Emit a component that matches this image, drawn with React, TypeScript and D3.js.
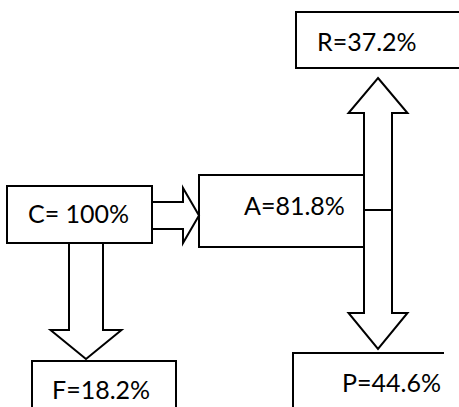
import { line } from 'd3';

// flow shares (percent of C)
const nodes = ['C', 'A', 'R', 'F', 'P'];
const shares = [100, 81.8, 37.2, 18.2, 44.6];
const labels = nodes.map((n, i) => `${n}=${i === 0 ? ' ' : ''}${shares[i]}%`);

const W = 459;
const H = 407;

// diagram layout (boxes + label anchors)
const boxes: Record<string, { x0: number; y0: number; x1: number; y1: number; tx: number; ty: number }> = {
  C: { x0: 7, y0: 186, x1: 152, y1: 243, tx: 28, ty: 223 },
  A: { x0: 199, y0: 175, x1: 364, y1: 247, tx: 244, ty: 215 },
  R: { x0: 296, y0: 12, x1: 470, y1: 68, tx: 317, ty: 51 },
  F: { x0: 32, y0: 361, x1: 176, y1: 430, tx: 52, ty: 399 },
  P: { x0: 293, y0: 353, x1: 444, y1: 430, tx: 342, ty: 392 },
};

type Pt = [number, number];
const poly = line<Pt>();

// single block arrow: along x (horizontal) or y (vertical)
function blockArrow(c: number, t0: number, t1: number, w: number, h: number, L: number, vertical: boolean) {
  const s = Math.sign(t1 - t0);
  const b = t1 - s * L;
  const pts: [number, number][] = [
    [t0, c - w], [b, c - w], [b, c - h], [t1, c], [b, c + h], [b, c + w], [t0, c + w],
  ];
  const out = pts.map(([t, k]) => (vertical ? [k, t] : [t, k]) as Pt);
  return poly(out) + 'Z';
}

function doubleArrow(c: number, tA: number, tB: number, w: number, h: number, L1: number, L2: number) {
  const pts: Pt[] = [
    [c, tA], [c + h, tA + L1], [c + w, tA + L1], [c + w, tB - L2], [c + h, tB - L2], [c, tB],
    [c - h, tB - L2], [c - w, tB - L2], [c - w, tA + L1], [c - h, tA + L1],
  ];
  return poly(pts) + 'Z';
}

export default function App() {
  const stroke = '#000';
  const sw = 2;
  const font = 'Lato, "Open Sans", sans-serif';
  return (
    <svg width={W} height={H} style={{ position: 'absolute', left: 0, top: 0, background: '#fff' }}>
      {['C', 'A', 'R', 'F'].map((k) => {
        const b = boxes[k];
        return (
          <rect key={k} x={b.x0} y={b.y0} width={b.x1 - b.x0} height={b.y1 - b.y0}
            fill="#fff" stroke={stroke} strokeWidth={sw} />
        );
      })}
      {/* P box: right side runs off the page */}
      <path d={`M${boxes.P.x1},${boxes.P.y0}H${boxes.P.x0}V${boxes.P.y1}`} fill="#fff" stroke={stroke} strokeWidth={sw} />

      {/* C -> A */}
      <path d={blockArrow(215.5, boxes.C.x1, boxes.A.x0, 13.5, 27.5, 16, false)} fill="#fff" stroke={stroke} strokeWidth={sw} />
      {/* C -> F */}
      <path d={blockArrow(86, boxes.C.y1, 359, 17, 35.5, 29, true)} fill="#fff" stroke={stroke} strokeWidth={sw} />
      {/* A -> R / P */}
      <path d={doubleArrow(378, 78, 349, 14, 29.5, 35, 36)} fill="#fff" stroke={stroke} strokeWidth={sw} />
      <line x1={364} x2={392} y1={210} y2={210} stroke={stroke} strokeWidth={sw} />

      {nodes.map((n, i) => (
        <text key={n} x={boxes[n].tx} y={boxes[n].ty} fontFamily={font} fontSize={25} fill="#000">
          {labels[i]}
        </text>
      ))}
    </svg>
  );
}
